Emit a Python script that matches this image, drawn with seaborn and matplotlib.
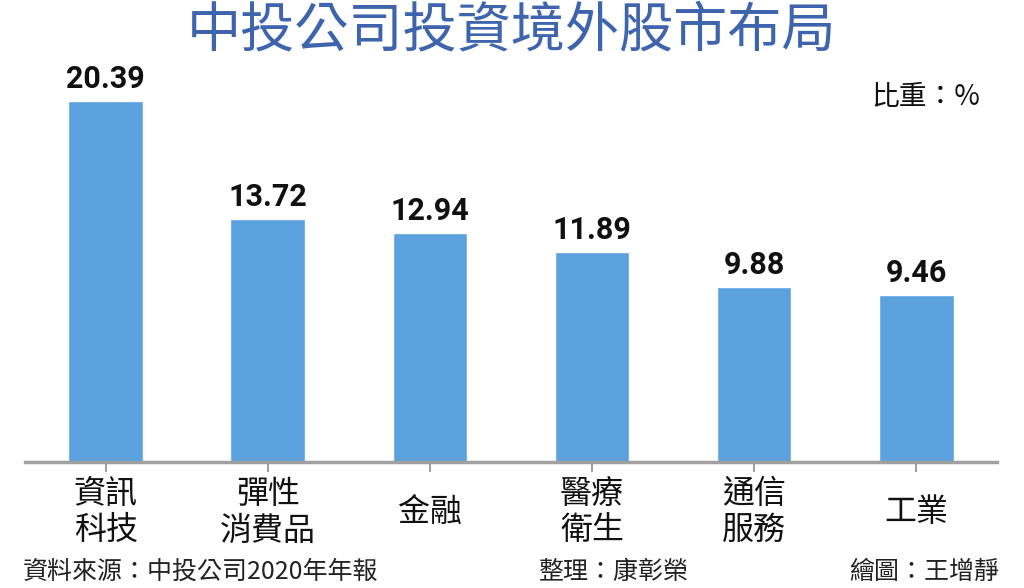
import matplotlib
matplotlib.use("Agg")
import matplotlib.pyplot as plt
import seaborn as sns
import pandas as pd

# 資料
categories = ["資訊\n科技", "彈性\n消費品", "金融", "醫療\n衛生", "通信\n服務", "工業"]
weights = [20.39, 13.72, 12.94, 11.89, 9.88, 9.46]
value_labels = ["20.39", "13.72", "12.94", "11.89", "9.88", "9.46"]

df = pd.DataFrame({"類別": categories, "比重": weights})

sns.set_theme(style="white")
plt.rcParams["font.family"] = ["Noto Sans CJK TC", "DejaVu Sans"]

fig = plt.figure(figsize=(10.24, 5.88), dpi=100)
ax = fig.add_axes([0.024, 1 - 462 / 588, 0.950, (462 - 72.6) / 588])

sns.barplot(data=df, x="類別", y="比重", color="#5ba1de", width=0.46,
            saturation=1, ax=ax)

ax.set_xlim(-0.5, 5.5)
ax.set_ylim(0, 22)

# 數值標籤
for cont in ax.containers:
    ax.bar_label(cont, labels=value_labels, padding=5, fontsize=22,
                 fontweight="bold", color="#111111", family="Roboto")

# 座標軸樣式
for s in ["top", "right", "left"]:
    ax.spines[s].set_visible(False)
ax.spines["bottom"].set_color("#a0a0a0")
ax.spines["bottom"].set_linewidth(2.5)
ax.set_yticks([])
ax.set_xlabel("")
ax.set_ylabel("")
ax.tick_params(axis="x", direction="out", length=7, width=1.5, color="#a0a0a0",
               pad=29, labelsize=23, labelcolor="#111111", bottom=True)
for lbl in ax.get_xticklabels():
    lbl.set_verticalalignment("center")
    lbl.set_linespacing(1.18)

# 標題與註記
fig.text(0.5, 0.948, "中投公司投資境外股市布局", ha="center", va="center",
         fontsize=39, fontweight="medium", color="#3d64ad")
fig.text(0.957, 0.835, "比重：%", ha="right", va="center", fontsize=20,
         color="#111111")
fig.text(0.022, 0.027, "資料來源：中投公司2020年年報", ha="left", va="center",
         fontsize=18, color="#222222")
fig.text(0.525, 0.027, "整理：康彰榮", ha="left", va="center",
         fontsize=18, color="#222222")
fig.text(0.976, 0.027, "繪圖：王增靜", ha="right", va="center",
         fontsize=18, color="#222222")

fig.savefig("out.png", dpi=100)
